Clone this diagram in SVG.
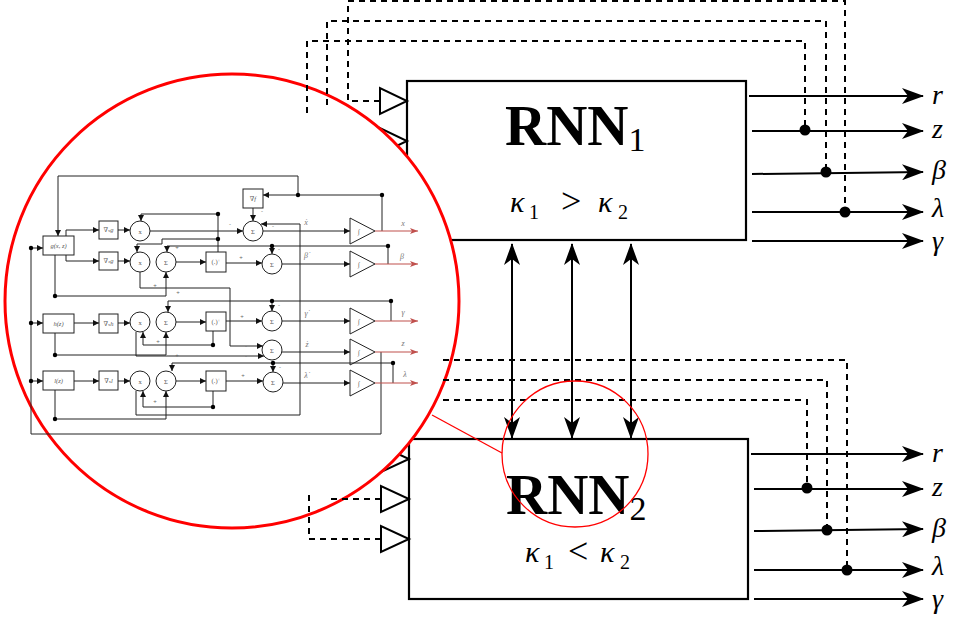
<svg xmlns="http://www.w3.org/2000/svg" width="953" height="623" viewBox="0 0 953 623">
<style>
.bx{fill:#fff;stroke:#000;stroke-width:2.2}
.ln{fill:none;stroke:#000;stroke-width:2}
.ds{fill:none;stroke:#000;stroke-width:2;stroke-dasharray:6 5}
.tri{fill:#fff;stroke:#000;stroke-width:2}
.dot{fill:#000}
.lbl{font-family:"Liberation Serif","DejaVu Serif",serif;font-style:italic;font-size:28px;fill:#000}
.rnn{font-family:"Liberation Serif","DejaVu Serif",serif;font-weight:bold;font-size:57px;fill:#000}
.sub{font-weight:normal;font-size:34px}
.k{font-family:"Liberation Serif","DejaVu Serif",serif;font-size:36px;fill:#000}
.kg{font-family:"Liberation Serif","DejaVu Serif",serif;font-style:italic;font-size:30px;fill:#000}
.ks{font-family:"Liberation Serif","DejaVu Serif",serif;font-size:20px;fill:#000}
.c{fill:none;stroke:#222;stroke-width:1}
.cb{fill:#fff;stroke:#222;stroke-width:1}
.cr{fill:none;stroke:#c0504d;stroke-width:1.2}
.cd{fill:#000}
.ct{font-family:"Liberation Serif","DejaVu Serif",serif;font-size:6.5px;fill:#555;text-anchor:middle}
.cl{font-family:"Liberation Serif","DejaVu Serif",serif;font-size:8px;font-style:italic;fill:#777;text-anchor:middle}
.pm{font-family:"Liberation Sans",sans-serif;font-size:6px;fill:#666;text-anchor:middle}
</style>
<defs>
<marker id="big" viewBox="0 0 22 16" refX="21" refY="8" markerWidth="22" markerHeight="16" markerUnits="userSpaceOnUse" orient="auto-start-reverse"><path d="M22,8 L0,0 L6,8 L0,16 Z" fill="#000"/></marker>
<marker id="sa" viewBox="0 0 6 6" refX="6" refY="3" markerWidth="6" markerHeight="6" markerUnits="userSpaceOnUse" orient="auto"><path d="M0,0 L6,3 L0,6 Z" fill="#111"/></marker>
<marker id="ra" viewBox="0 0 8 6" refX="8" refY="3" markerWidth="8" markerHeight="6" markerUnits="userSpaceOnUse" orient="auto"><path d="M0,0 L8,3 L0,6 L2,3 Z" fill="#c0504d"/></marker>
</defs>

<g id="rnn1">
<rect class="bx" x="407" y="81" width="339" height="159"/>
<text class="rnn" x="505" y="145">RNN<tspan class="sub" dy="6">1</tspan></text>
<text class="kg" x="510" y="212">κ</text>
<text class="ks" x="529" y="219">1</text>
<text class="k" x="561" y="213">&gt;</text>
<text class="kg" x="598" y="212">κ</text>
<text class="ks" x="618" y="219">2</text>
</g>
<g id="rnn2">
<rect class="bx" x="409" y="439" width="339" height="160"/>
<text class="rnn" x="506" y="514" font-size="54">RNN<tspan class="sub" dy="6">2</tspan></text>
<text class="kg" x="525" y="562">κ</text>
<text class="ks" x="544" y="569">1</text>
<text class="k" x="568" y="563">&lt;</text>
<text class="kg" x="600" y="562">κ</text>
<text class="ks" x="620" y="569">2</text>
</g>
<g id="buffers">
<polygon class="tri" points="380,88 380,114 407,101"/>
<polygon class="tri" points="380,128 380,154 407,141"/>
<polygon class="tri" points="381,446 381,472 409,459"/>
<polygon class="tri" points="381,486 381,512 409,499"/>
<polygon class="tri" points="381,526 381,552 409,539"/>
</g>

<g id="connectors">
<path class="ln" d="M749,96 H923" marker-end="url(#big)"/>
<path class="ln" d="M752,131 H923" marker-end="url(#big)"/>
<path class="ln" d="M752,174 L923,172" marker-end="url(#big)"/>
<path class="ln" d="M752,212 H923" marker-end="url(#big)"/>
<path class="ln" d="M752,241 H923" marker-end="url(#big)"/>
<path class="ln" d="M751,454 H923" marker-end="url(#big)"/>
<path class="ln" d="M754,489 H923" marker-end="url(#big)"/>
<path class="ln" d="M754,531 L923,529" marker-end="url(#big)"/>
<path class="ln" d="M754,570 H923" marker-end="url(#big)"/>
<path class="ln" d="M754,599 H923" marker-end="url(#big)"/>
<path class="ln" d="M512,244 V438" marker-start="url(#big)" marker-end="url(#big)"/>
<path class="ln" d="M572,244 V438" marker-start="url(#big)" marker-end="url(#big)"/>
<path class="ln" d="M631,244 V438" marker-start="url(#big)" marker-end="url(#big)"/>
</g>

<circle cx="232" cy="301" r="227" fill="#fff" stroke="#ff0000" stroke-width="3"/>

<g id="circuit">
<g id="g-box"><rect class="cb" x="43" y="236" width="31" height="19"/><text class="ct" x="58.5" y="248" font-style="italic">g(x, z)</text></g>
<g id="h-box"><rect class="cb" x="43" y="314" width="31" height="19"/><text class="ct" x="58.5" y="326" font-style="italic">h(z)</text></g>
<g id="l-box"><rect class="cb" x="43" y="371" width="31" height="19"/><text class="ct" x="58.5" y="383" font-style="italic">l(z)</text></g>
<g id="dxg"><rect class="cb" x="99" y="221" width="19" height="18"/><text class="ct" x="108.5" y="232">∇<tspan font-size="4.5">x</tspan><tspan font-style="italic">g</tspan></text></g>
<g id="dzg"><rect class="cb" x="99" y="252" width="19" height="18"/><text class="ct" x="108.5" y="263">∇<tspan font-size="4.5">z</tspan><tspan font-style="italic">g</tspan></text></g>
<g id="dxh"><rect class="cb" x="99" y="314" width="19" height="19"/><text class="ct" x="108.5" y="326">∇<tspan font-size="4.5">x</tspan><tspan font-style="italic">h</tspan></text></g>
<g id="dxl"><rect class="cb" x="99" y="371" width="19" height="19"/><text class="ct" x="108.5" y="383" fill="#333">∇<tspan font-size="4.5">x</tspan><tspan font-style="italic">l</tspan></text></g>
<g id="df"><rect class="cb" x="243" y="189" width="20" height="19"/><text class="ct" x="253" y="201">∇<tspan font-style="italic">f</tspan></text></g>
<g id="pos1"><rect class="cb" x="206" y="252" width="20" height="20"/><text class="ct" x="216" y="264">(.)<tspan font-size="5" dy="-2">+</tspan></text></g>
<g id="pos2"><rect class="cb" x="206" y="312" width="20" height="19"/><text class="ct" x="216" y="324">(.)<tspan font-size="5" dy="-2">+</tspan></text></g>
<g id="pos3"><rect class="cb" x="206" y="371" width="20" height="20"/><text class="ct" x="216" y="383">(.)<tspan font-size="5" dy="-2">+</tspan></text></g>
<g id="m1"><circle class="cb" cx="140" cy="231" r="10"/><text class="ct" x="140" y="233.5">x</text></g>
<g id="m2"><circle class="cb" cx="140" cy="262" r="10"/><text class="ct" x="140" y="264.5">x</text></g>
<g id="s1"><circle class="cb" cx="166" cy="262" r="10"/><text class="ct" x="166" y="264.5">Σ</text></g>
<g id="m3"><circle class="cb" cx="140" cy="322" r="10"/><text class="ct" x="140" y="324.5">x</text></g>
<g id="s2"><circle class="cb" cx="166" cy="322" r="10"/><text class="ct" x="166" y="324.5">Σ</text></g>
<g id="m4"><circle class="cb" cx="140" cy="381" r="10"/><text class="ct" x="140" y="383.5">x</text></g>
<g id="s3"><circle class="cb" cx="166" cy="381" r="10"/><text class="ct" x="166" y="383.5">Σ</text></g>
<g id="sx"><circle class="cb" cx="253" cy="231" r="10"/><text class="ct" x="253" y="233.5">Σ</text></g>
<g id="sb"><circle class="cb" cx="272" cy="264" r="10"/><text class="ct" x="272" y="266.5">Σ</text></g>
<g id="sg"><circle class="cb" cx="272" cy="321" r="10"/><text class="ct" x="272" y="323.5">Σ</text></g>
<g id="sz"><circle class="cb" cx="272" cy="350" r="10"/><text class="ct" x="272" y="352.5">Σ</text></g>
<g id="sl"><circle class="cb" cx="273" cy="382" r="10"/><text class="ct" x="273" y="384.5">Σ</text></g>
<g id="ix"><polygon class="cb" points="350,218 350,244 375,231"/><text class="ct" x="359" y="234">∫</text></g>
<g id="ib"><polygon class="cb" points="350,251 350,277 375,264"/><text class="ct" x="359" y="267">∫</text></g>
<g id="ig"><polygon class="cb" points="350,308 350,334 375,321"/><text class="ct" x="359" y="324">∫</text></g>
<g id="iz"><polygon class="cb" points="350,339 350,365 375,352"/><text class="ct" x="359" y="355">∫</text></g>
<g id="il"><polygon class="cb" points="350,370 350,396 375,383"/><text class="ct" x="359" y="386">∫</text></g>

<g id="circuit-wires">
<path class="c" d="M298,195 V176 H58 V236" marker-end="url(#sa)"/>
<path class="c" d="M382,231 V195 H263" marker-end="url(#sa)"/>
<path class="c" d="M253,208 V221" marker-end="url(#sa)"/>
<path class="c" d="M150,231 H243" marker-end="url(#sa)"/>
<path class="c" d="M263,231 H350" marker-end="url(#sa)"/>
<path class="c" d="M218,252 V214 H141 V221" marker-end="url(#sa)"/>
<path class="c" d="M218,239 H162 V244 H137 V252" marker-end="url(#sa)"/>
<path class="c" d="M388,264 V246 H167 V252" marker-end="url(#sa)"/>
<path class="c" d="M272,246 V254" marker-end="url(#sa)"/>
<path class="c" d="M66,236 V230 H99" marker-end="url(#sa)"/>
<path class="c" d="M66,255 V261 H99" marker-end="url(#sa)"/>
<path class="c" d="M118,230 H130" marker-end="url(#sa)"/>
<path class="c" d="M118,261 H130" marker-end="url(#sa)"/>
<path class="c" d="M176,262 H206" marker-end="url(#sa)"/>
<path class="c" d="M226,263 H262" marker-end="url(#sa)"/>
<path class="c" d="M282,264 H350" marker-end="url(#sa)"/>
<path class="c" d="M55,255 V296 H166 V272" marker-end="url(#sa)"/>
<path class="c" d="M140,272 V288 H230 V346 H263" marker-end="url(#sa)"/>
<path class="c" d="M31,248 V434 H381 V352"/>
<path class="c" d="M31,248 H43" marker-end="url(#sa)"/>
<path class="c" d="M31,323 H43" marker-end="url(#sa)"/>
<path class="c" d="M31,381 H43" marker-end="url(#sa)"/>
<path class="c" d="M136,391 V415 H300 V224 H261" marker-end="url(#sa)"/>
<path class="c" d="M74,323 H99" marker-end="url(#sa)"/>
<path class="c" d="M118,323 H130" marker-end="url(#sa)"/>
<path class="c" d="M176,322 H206" marker-end="url(#sa)"/>
<path class="c" d="M226,321 H262" marker-end="url(#sa)"/>
<path class="c" d="M282,321 H350" marker-end="url(#sa)"/>
<path class="c" d="M213,331 V345 H143 V332" marker-end="url(#sa)"/>
<path class="c" d="M55,333 V355 H166 V332" marker-end="url(#sa)"/>
<path class="c" d="M136,332 V356 H264" marker-end="url(#sa)"/>
<path class="c" d="M391,321 V301 H168 V312" marker-end="url(#sa)"/>
<path class="c" d="M272,301 V311" marker-end="url(#sa)"/>
<path class="c" d="M282,352 H350" marker-end="url(#sa)"/>
<path class="c" d="M74,381 H99" marker-end="url(#sa)"/>
<path class="c" d="M118,381 H130" marker-end="url(#sa)"/>
<path class="c" d="M176,381 H206" marker-end="url(#sa)"/>
<path class="c" d="M226,381 H263" marker-end="url(#sa)"/>
<path class="c" d="M283,383 H350" marker-end="url(#sa)"/>
<path class="c" d="M213,391 V407 H143 V391" marker-end="url(#sa)"/>
<path class="c" d="M55,390 V419 H166 V391" marker-end="url(#sa)"/>
<path class="c" d="M393,383 V363 H172 V371" marker-end="url(#sa)"/>
<path class="c" d="M273,363 V372" marker-end="url(#sa)"/>
<path class="cr" d="M375,231 H418" marker-end="url(#ra)"/>
<path class="cr" d="M375,264 H418" marker-end="url(#ra)"/>
<path class="cr" d="M375,321 H418" marker-end="url(#ra)"/>
<path class="cr" d="M375,352 H418" marker-end="url(#ra)"/>
<path class="cr" d="M375,383 H418" marker-end="url(#ra)"/>
<g class="cd">
<circle cx="298" cy="195" r="2.2"/><circle cx="382" cy="195" r="2.2"/>
<circle cx="218" cy="214" r="2.2"/><circle cx="218" cy="239" r="2.2"/>
<circle cx="388" cy="246" r="2.2"/><circle cx="272" cy="246" r="2.2"/>
<circle cx="55" cy="296" r="2.2"/><circle cx="31" cy="248" r="2.2"/>
<circle cx="31" cy="323" r="2.2"/><circle cx="31" cy="381" r="2.2"/>
<circle cx="213" cy="345" r="2.2"/><circle cx="55" cy="355" r="2.2"/>
<circle cx="391" cy="301" r="2.2"/><circle cx="272" cy="301" r="2.2"/>
<circle cx="213" cy="407" r="2.2"/><circle cx="55" cy="419" r="2.2"/>
<circle cx="393" cy="363" r="2.2"/><circle cx="273" cy="363" r="2.2"/>
</g>
</g>
<text class="pm" x="230" y="226">-</text>
<text class="pm" x="262" y="213">-</text>
<text class="pm" x="273" y="228">-</text>
<text class="pm" x="241" y="259">+</text>
<text class="pm" x="279" y="251">-</text>
<text class="pm" x="177" y="249">+</text>
<text class="pm" x="155" y="287">+</text>
<text class="pm" x="178" y="294">+</text>
<text class="pm" x="242" y="318">+</text>
<text class="pm" x="279" y="307">-</text>
<text class="pm" x="158" y="343">+</text>
<text class="pm" x="177" y="357">+</text>
<text class="pm" x="246" y="348">-</text>
<text class="pm" x="246" y="358">-</text>
<text class="pm" x="243" y="377">+</text>
<text class="pm" x="280" y="369">-</text>
<text class="pm" x="155" y="403">+</text>
<text class="cl" x="306" y="225">ẋ</text>
<text class="cl" x="306" y="258">β̇</text>
<text class="cl" x="306" y="316">γ̇</text>
<text class="cl" x="307" y="347">ż</text>
<text class="cl" x="306" y="378">λ̇</text>
<text class="cl" x="403" y="226">x</text>
<text class="cl" x="402" y="259">β</text>
<text class="cl" x="403" y="315">γ</text>
<text class="cl" x="403" y="346">z</text>
<text class="cl" x="405" y="377">λ</text>
</g>

<g id="feedback-dashed">
<path class="ds" d="M380,101 H348 V1 H845 V212"/>
<path class="ds" d="M327,105 V21 H826 V172"/>
<path class="ds" d="M307,113 V41 H805 V130"/>
<path class="ds" d="M443,360 H847 V570"/>
<path class="ds" d="M443,380 H827 V530"/>
<path class="ds" d="M443,400 H807 V487"/>
<path class="ds" d="M381,499 H330 V495"/>
<path class="ds" d="M381,539 H309 V492"/>
</g>
<g id="junctions">
<circle class="dot" cx="805" cy="130" r="5.5"/>
<circle class="dot" cx="826" cy="172" r="5.5"/>
<circle class="dot" cx="845" cy="212" r="5.5"/>
<circle class="dot" cx="807" cy="488" r="5.5"/>
<circle class="dot" cx="827" cy="530" r="5.5"/>
<circle class="dot" cx="847" cy="570" r="5.5"/>
</g>

<g id="labels">
<text class="lbl" x="932" y="104">r</text>
<text class="lbl" x="932" y="138">z</text>
<text class="lbl" x="932" y="179" fill="#666">β</text>
<text class="lbl" x="932" y="217">λ</text>
<text class="lbl" x="932" y="250">γ</text>
<text class="lbl" x="932" y="462">r</text>
<text class="lbl" x="932" y="496">z</text>
<text class="lbl" x="932" y="537" fill="#666">β</text>
<text class="lbl" x="932" y="575">λ</text>
<text class="lbl" x="932" y="608">γ</text>
</g>

<g id="zoom-marker">
<circle cx="575" cy="454" r="73" fill="none" stroke="#ff0000" stroke-width="1.3"/>
<line x1="432" y1="415" x2="502" y2="453" stroke="#ff0000" stroke-width="1.3"/>
</g>
</svg>
